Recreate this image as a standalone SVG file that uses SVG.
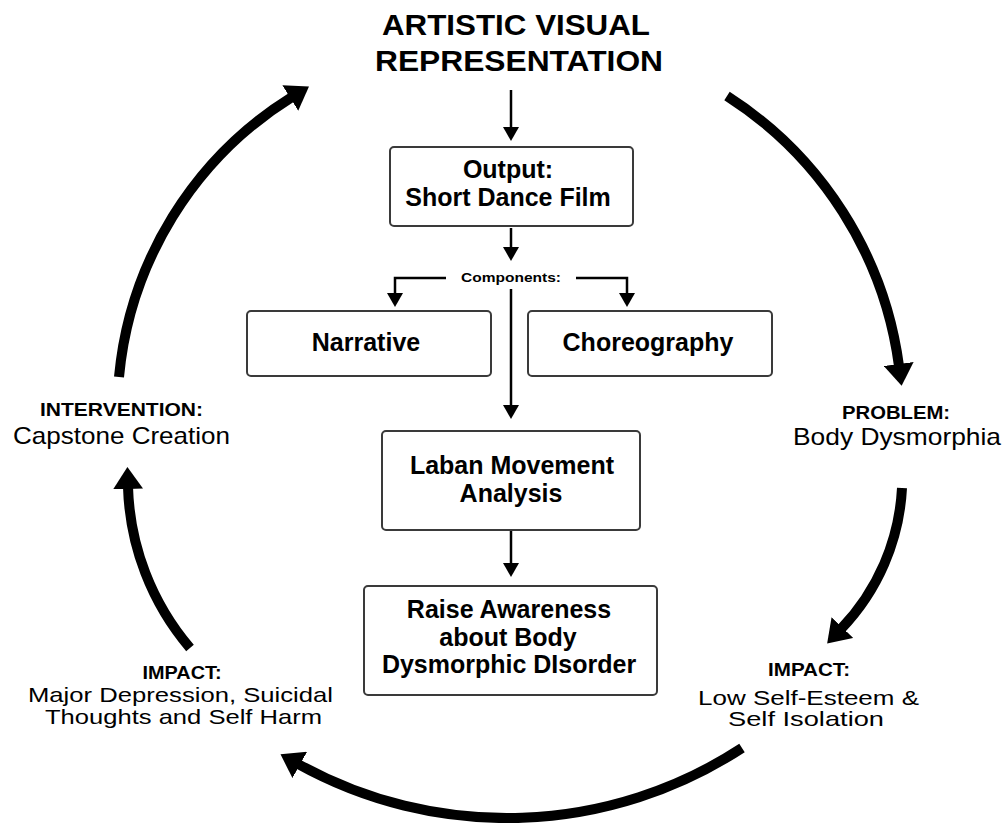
<svg xmlns="http://www.w3.org/2000/svg" width="1002" height="823" viewBox="0 0 1002 823">
<style>
.box{fill:#fff;stroke:#3a3a3a;stroke-width:2}
.t{font-family:"Liberation Sans",Arial,sans-serif;fill:#000;text-anchor:middle}
.bx{font-size:25px;font-weight:bold}
.ttl{font-size:29px;font-weight:bold}
.lbl{font-size:18px;font-weight:bold}
.reg{font-size:24px}
.sm{font-size:21px}
.thin{fill:none;stroke:#000;stroke-width:2.5}
.thick{fill:none;stroke:#000;stroke-width:10}
</style>
<defs>
<marker id="ah" markerUnits="userSpaceOnUse" viewBox="0 0 14 16" markerWidth="14" markerHeight="16" refX="1" refY="8" orient="auto"><path d="M0,0 L14,8 L0,16 z" fill="#000"/></marker>
<marker id="big" markerUnits="userSpaceOnUse" viewBox="0 0 22 30" markerWidth="22" markerHeight="30" refX="2" refY="15" orient="auto"><path d="M0,0 L22,15 L0,30 z" fill="#000"/></marker>
</defs>
<rect width="1002" height="823" fill="#fff"/>
<g id="connectors">
<path class="thin" d="M511,90 V128" marker-end="url(#ah)"/>
<path class="thin" d="M511,228 V248" marker-end="url(#ah)"/>
<path class="thin" d="M446,278 H395 V294" marker-end="url(#ah)"/>
<path class="thin" d="M576,278 H627 V294" marker-end="url(#ah)"/>
<path class="thin" d="M511,289 V406" marker-end="url(#ah)"/>
<path class="thin" d="M511,531 V564" marker-end="url(#ah)"/>
<path class="thick" d="M119,377 A370,370 0 0 1 292,97" marker-end="url(#big)"/>
<path class="thick" d="M727,96 A380,380 0 0 1 899,366" marker-end="url(#big)"/>
<path class="thick" d="M902,488 A220,220 0 0 1 841,629" marker-end="url(#big)"/>
<path class="thick" d="M742,748 A430,430 0 0 1 298,764" marker-end="url(#big)"/>
<path class="thick" d="M190,648 A260,260 0 0 1 128,487" marker-end="url(#big)"/>
</g>
<g id="title">
<text class="t ttl" x="516" y="35" textLength="268" lengthAdjust="spacingAndGlyphs">ARTISTIC VISUAL</text>
<text class="t ttl" x="519" y="71" textLength="288" lengthAdjust="spacingAndGlyphs">REPRESENTATION</text>
</g>
<g id="output">
<rect class="box" x="390" y="147" width="243" height="79" rx="4"/>
<text class="t bx" x="508" y="178">Output:</text>
<text class="t bx" x="508" y="206">Short Dance Film</text>
</g>
<g id="components">
<text class="t" x="511" y="282" font-size="12" font-weight="bold" textLength="100" lengthAdjust="spacingAndGlyphs">Components:</text>
</g>
<g id="narrative">
<rect class="box" x="247" y="311" width="244" height="65" rx="4"/>
<text class="t bx" x="366" y="351">Narrative</text>
</g>
<g id="choreography">
<rect class="box" x="528" y="311" width="244" height="65" rx="4"/>
<text class="t bx" x="648" y="351">Choreography</text>
</g>
<g id="laban">
<rect class="box" x="382" y="431" width="258" height="99" rx="4"/>
<text class="t bx" x="512" y="474">Laban Movement</text>
<text class="t bx" x="511" y="502">Analysis</text>
</g>
<g id="raise">
<rect class="box" x="364" y="586" width="293" height="109" rx="4"/>
<text class="t bx" x="509" y="618">Raise Awareness</text>
<text class="t bx" x="508" y="646">about Body</text>
<text class="t bx" x="509" y="673">Dysmorphic DIsorder</text>
</g>
<g id="intervention">
<text class="t lbl" x="121.5" y="416" textLength="163" lengthAdjust="spacingAndGlyphs">INTERVENTION:</text>
<text class="t reg" x="121.5" y="444" textLength="217" lengthAdjust="spacingAndGlyphs">Capstone Creation</text>
</g>
<g id="problem">
<text class="t lbl" x="896" y="419" textLength="108" lengthAdjust="spacingAndGlyphs">PROBLEM:</text>
<text class="t reg" x="897" y="445" textLength="208" lengthAdjust="spacingAndGlyphs">Body Dysmorphia</text>
</g>
<g id="impact-left">
<text class="t lbl" x="182" y="679" textLength="79" lengthAdjust="spacingAndGlyphs">IMPACT:</text>
<text class="t sm" x="180.5" y="702" textLength="305" lengthAdjust="spacingAndGlyphs">Major Depression, Suicidal</text>
<text class="t sm" x="183.5" y="724" textLength="277" lengthAdjust="spacingAndGlyphs">Thoughts and Self Harm</text>
</g>
<g id="impact-right">
<text class="t lbl" x="809" y="676" textLength="82" lengthAdjust="spacingAndGlyphs">IMPACT:</text>
<text class="t sm" x="808.5" y="705" textLength="221" lengthAdjust="spacingAndGlyphs">Low Self-Esteem &amp;</text>
<text class="t sm" x="806" y="726" textLength="156" lengthAdjust="spacingAndGlyphs">Self Isolation</text>
</g>
</svg>
